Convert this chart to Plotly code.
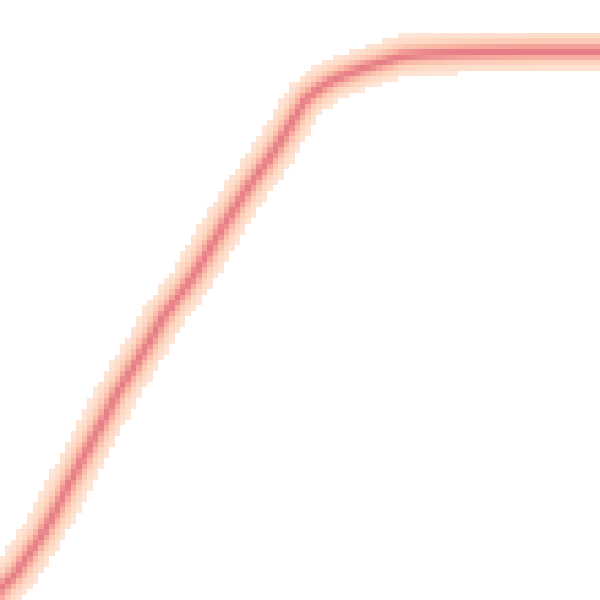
import numpy as np
import plotly.graph_objects as go

# Centre line of the density band (x, y in a 0..600 frame, y up)
curve_x = [-30, 0, 17, 40, 55, 70, 105, 117, 130, 152, 163, 178, 193, 208, 225, 245, 257,
           268, 278, 290, 297, 305, 320, 333, 350, 367, 383, 403, 427, 450, 480, 540, 630]
curve_y = [-40, 10, 28, 62, 88, 118, 183, 207, 227, 263, 283, 303, 323, 348, 377, 408, 425,
           440, 455, 475, 487, 500, 512, 520, 527, 533, 538, 544, 546, 547, 548, 549, 549]

n_cells = 110
halo_width = 16.0
core_width = 6.0

cell = 600.0 / n_cells
centers = (np.arange(n_cells) + 0.5) * cell
X, Y = np.meshgrid(centers, centers)

px = np.array(curve_x, float)
py = np.array(curve_y, float)
dmin = np.full(X.shape, np.inf)
for i in range(len(px) - 1):
    ax, ay, bx, by = px[i], py[i], px[i + 1], py[i + 1]
    vx, vy = bx - ax, by - ay
    L2 = vx * vx + vy * vy
    t = np.clip(((X - ax) * vx + (Y - ay) * vy) / L2, 0, 1)
    d = np.hypot(X - (ax + t * vx), Y - (ay + t * vy))
    dmin = np.minimum(dmin, d)

z = 0.55 * np.exp(-(dmin / halo_width) ** 2) + 0.45 * np.exp(-(dmin / core_width) ** 2)
z = np.where(z < 0.1, np.nan, z)

colorscale = [
    [0.0, "#fee6d8"],
    [0.2, "#fdd9c4"],
    [0.4, "#fbc3ae"],
    [0.6, "#f7aea0"],
    [0.8, "#f09896"],
    [1.0, "#e67e87"],
]

fig = go.Figure(go.Heatmap(
    x=centers, y=centers, z=z,
    colorscale=colorscale, zmin=0.1, zmax=1,
    showscale=False, zsmooth=False, hoverongaps=False,
))
fig.update_layout(
    width=600, height=600,
    margin=dict(l=0, r=0, t=0, b=0),
    paper_bgcolor="white", plot_bgcolor="white",
    xaxis=dict(visible=False, range=[0, 600]),
    yaxis=dict(visible=False, range=[0, 600]),
)
fig.write_html("out.html", post_script="document.body.style.margin='0';",
               config={"displayModeBar": False})
